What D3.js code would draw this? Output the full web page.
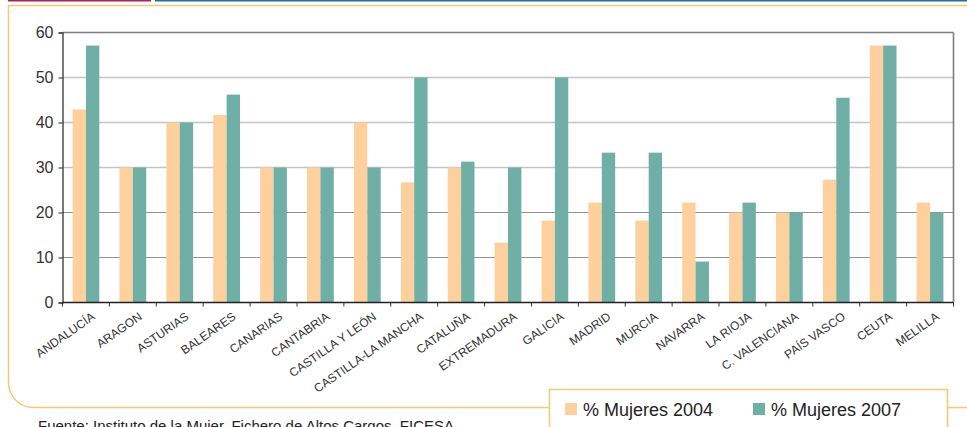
<!DOCTYPE html>
<html>
<head>
<meta charset="utf-8">
<script src="https://cdn.jsdelivr.net/npm/d3@7"></script>
<style>
  body { margin: 0; background: #fff; }
  svg { display: block; font-family: "Liberation Sans", Arial, sans-serif; }
</style>
</head>
<body>
<div id="chart"></div>
<script>
// regions (categories) and the two series
const regions = ["ANDALUCÍA", "ARAGON", "ASTURIAS", "BALEARES", "CANARIAS", "CANTABRIA",
  "CASTILLA Y LEÓN", "CASTILLA-LA MANCHA", "CATALUÑA", "EXTREMADURA", "GALICIA", "MADRID",
  "MURCIA", "NAVARRA", "LA RIOJA", "C. VALENCIANA", "PAÍS VASCO", "CEUTA", "MELILLA"];
const mujeres2004 = [42.9, 30, 40, 41.7, 30, 30, 40, 26.7, 30, 13.3, 18.2, 22.2, 18.2, 22.2, 20, 20, 27.3, 57.1, 22.2];
const mujeres2007 = [57.1, 30, 40, 46.2, 30, 30, 30, 50, 31.3, 30, 50, 33.3, 33.3, 9.1, 22.2, 20, 45.5, 57.1, 20];
const seriesNames = ["% Mujeres 2004", "% Mujeres 2007"];
const yTicks = [0, 10, 20, 30, 40, 50, 60];

const W = 967, H = 427;
const margin = {top: 32.5, left: 62.5, right: 13.5, bottom: 124.5};
const colors = ["#fdd09e", "#70afa6"];
const frameColor = "#f6c874";

const svg = d3.select("#chart").append("svg")
  .attr("width", W).attr("height", H);

// header lines
svg.append("line").attr("x1", 8).attr("x2", 151).attr("y1", 0.5).attr("y2", 0.5)
  .attr("stroke", "#a8245e").attr("stroke-width", 2);
svg.append("line").attr("x1", 155).attr("x2", W).attr("y1", 0.5).attr("y2", 0.5)
  .attr("stroke", "#1f6fa3").attr("stroke-width", 2);

// orange frame, right side runs off the page
const r = 25, fx = 8.5, fy = 5.5, fb = 407.5;
svg.append("path")
  .attr("d", `M${W + 5},${fy} H${fx} V${fb - r} A${r},${r} 0 0 0 ${fx + r},${fb} H${W + 5}`)
  .attr("fill", "none").attr("stroke", frameColor).attr("stroke-width", 1.5);

const width = W - margin.left - margin.right;
const height = H - margin.top - margin.bottom;

const g = svg.append("g").attr("transform", `translate(${margin.left},${margin.top})`);

const x0 = d3.scaleBand().domain(regions).range([0, width])
  .paddingInner(0.43).paddingOuter(0.215);
const x1 = d3.scaleBand().domain([0, 1]).range([0, x0.bandwidth()]);
const y = d3.scaleLinear().domain([0, 60]).range([height, 0]);

// gridlines
g.append("g").selectAll("line").data(yTicks.filter(d => d > 0 && d < 60)).join("line")
  .attr("x1", 0).attr("x2", width)
  .attr("y1", d => y(d)).attr("y2", d => y(d))
  .attr("stroke", d => d >= 30 ? "#c4c4c4" : "#939393")
  .attr("stroke-width", d => d >= 30 ? 1.6 : 1);

// top and right border of plot
g.append("line").attr("x1", 0).attr("x2", width).attr("y1", 0).attr("y2", 0)
  .attr("stroke", "#7f7f7f").attr("stroke-width", 1.6);
g.append("line").attr("x1", width).attr("x2", width).attr("y1", 0).attr("y2", height)
  .attr("stroke", "#7f7f7f").attr("stroke-width", 1.6);

// bars
const seriesData = [mujeres2004, mujeres2007];
seriesData.forEach((vals, s) => {
  g.append("g").attr("class", "series" + s)
    .selectAll("rect").data(vals).join("rect")
    .attr("x", (d, i) => x0(regions[i]) + x1(s))
    .attr("width", x1.bandwidth())
    .attr("y", d => y(d))
    .attr("height", d => height - y(d))
    .attr("fill", colors[s]);
});

// y axis
const yAxis = g.append("g")
  .call(d3.axisLeft(y).tickValues(yTicks).tickSize(4).tickPadding(5));
yAxis.select(".domain").attr("stroke", "#222").attr("stroke-width", 1.2);
yAxis.selectAll(".tick line").attr("stroke", "#222");
yAxis.selectAll("text").attr("font-size", 16).attr("fill", "#333")
  .attr("font-family", "Liberation Sans, Arial, sans-serif");

// x axis: ticks at category boundaries
const xb = g.append("g").attr("transform", `translate(0,${height})`);
xb.append("line").attr("x1", 0).attr("x2", width).attr("stroke", "#222").attr("stroke-width", 1.4);
const step = x0.step();
xb.selectAll(".xt").data(d3.range(regions.length + 1)).join("line")
  .attr("class", "xt")
  .attr("x1", i => i * step).attr("x2", i => i * step)
  .attr("y1", 0).attr("y2", 4).attr("stroke", "#333");
xb.selectAll("text").data(regions).join("text")
  .attr("transform", d => `translate(${x0(d) + x0.bandwidth() / 2 + 5},${9}) rotate(-35)`)
  .attr("text-anchor", "end")
  .attr("dy", "0.71em")
  .attr("font-size", 12)
  .attr("fill", "#333")
  .text(d => d);

// legend box
svg.append("rect").attr("x", 549.5).attr("y", 389.5).attr("width", 398).attr("height", 60)
  .attr("fill", "#fff").attr("stroke", frameColor).attr("stroke-width", 1.5);
const legendX = [565, 753];
seriesNames.forEach((name, s) => {
  svg.append("rect").attr("x", legendX[s]).attr("y", 403).attr("width", 12).attr("height", 12)
    .attr("fill", colors[s]);
  svg.append("text").attr("x", legendX[s] + 18).attr("y", 416)
    .attr("font-size", 18).attr("fill", "#222").text(name);
});

// source note, partly cut off at the bottom as in the original
svg.append("text").attr("x", 38).attr("y", 431)
  .attr("font-size", 15).attr("fill", "#222")
  .text("Fuente: Instituto de la Mujer. Fichero de Altos Cargos. FICESA");
</script>
</body>
</html>
